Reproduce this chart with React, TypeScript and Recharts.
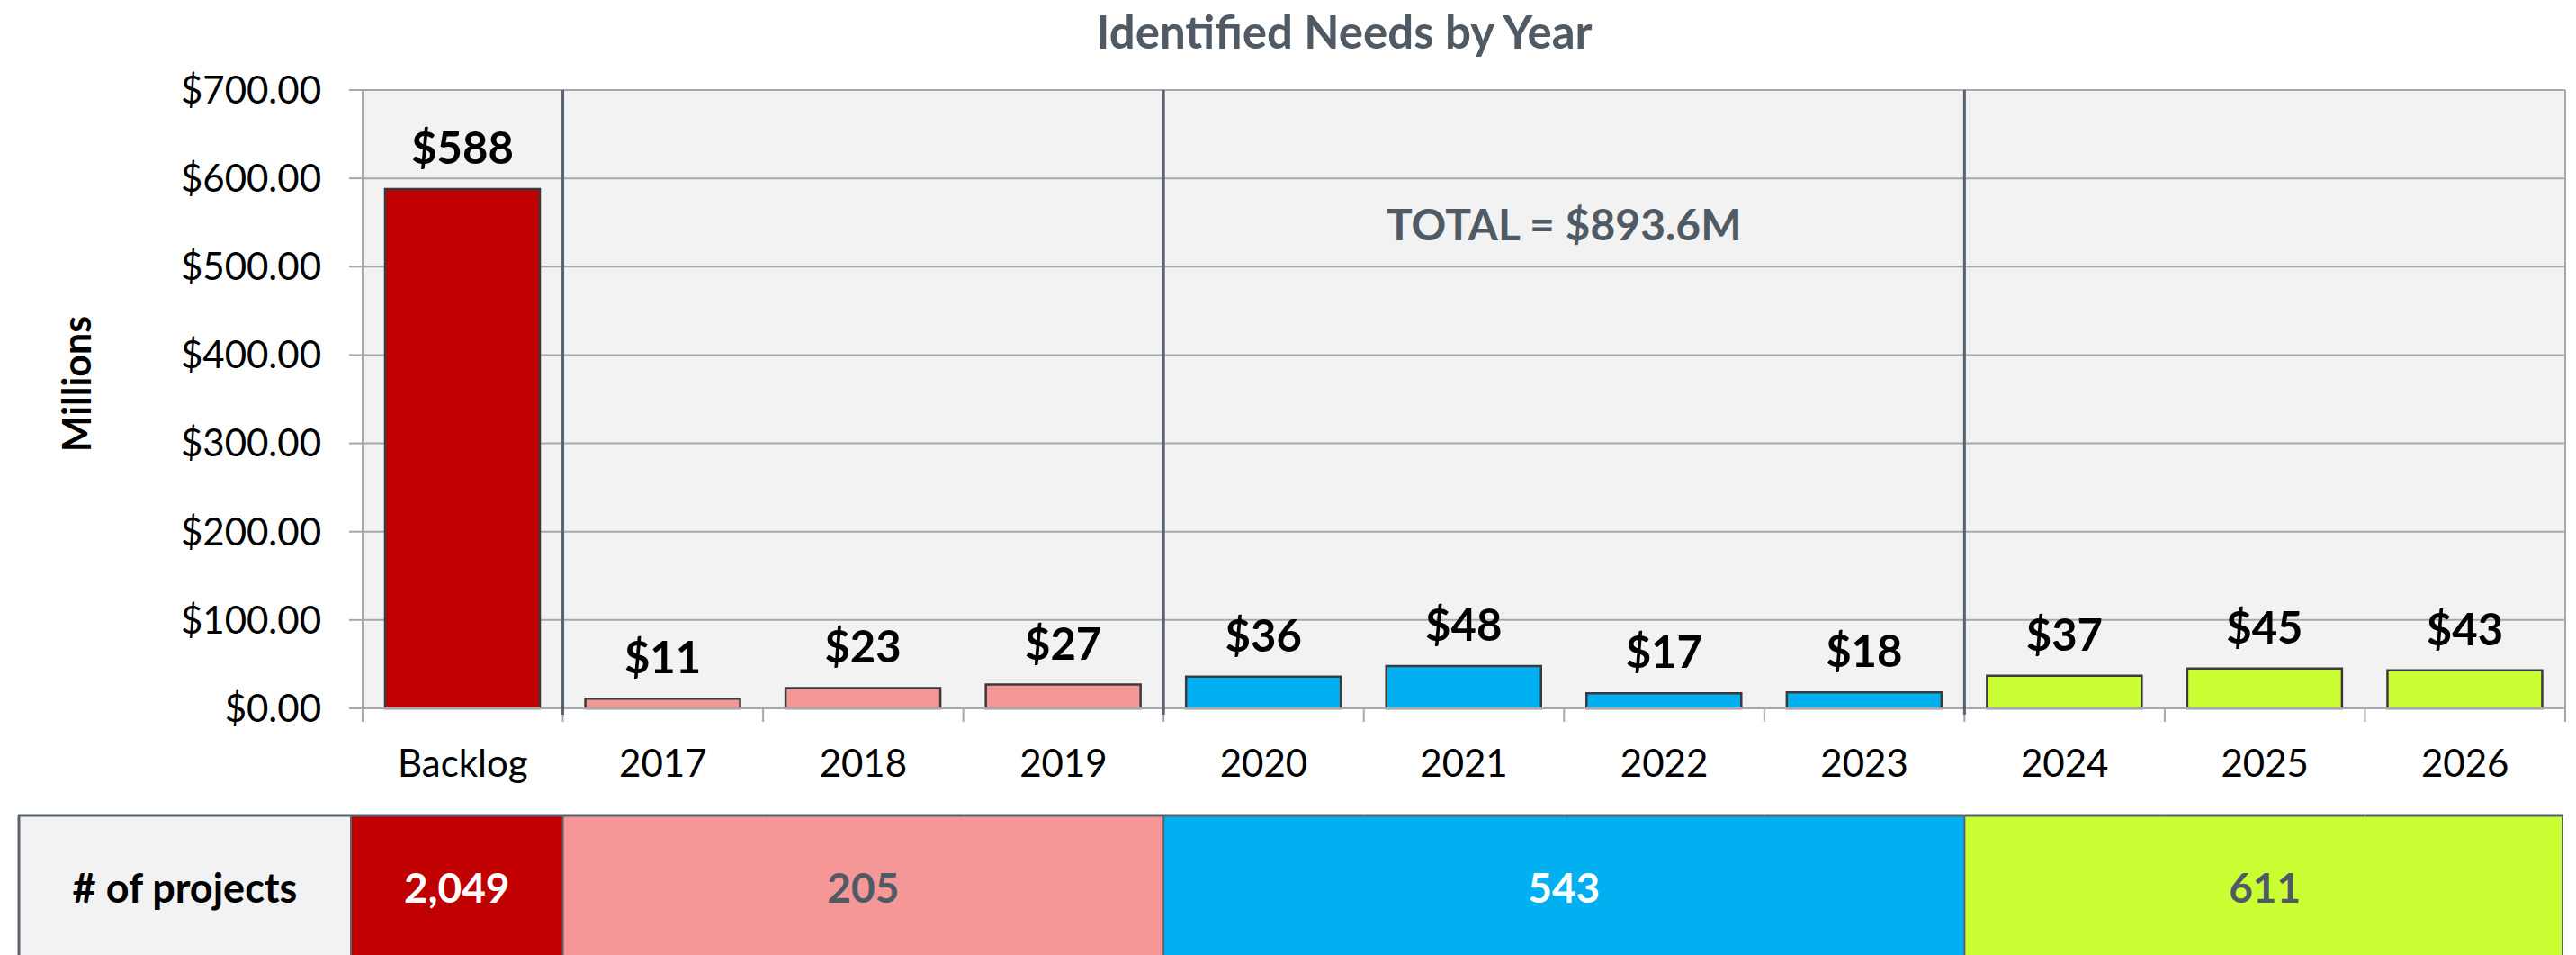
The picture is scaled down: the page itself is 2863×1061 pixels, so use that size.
import React from 'react';
import {
  ComposedChart,
  Bar,
  XAxis,
  YAxis,
  CartesianGrid,
  Cell,
  LabelList,
  ReferenceLine,
  ReferenceArea,
} from 'recharts';

// ---------- data ----------
const categories = ['Backlog', '2017', '2018', '2019', '2020', '2021', '2022', '2023', '2024', '2025', '2026'];
const needsMillions = [588, 11, 23, 27, 36, 48, 17, 18, 37, 45, 43];
const groupOfCategory = [0, 1, 1, 1, 2, 2, 2, 2, 3, 3, 3];
const groupColors = ['#c00000', '#f59797', '#00b0f0', '#ccff33'];
const groupTextColors = ['#ffffff', '#505a64', '#ffffff', '#505a64'];
const projectCounts = ['2,049', '205', '543', '611'];
const yTicks = [0, 100, 200, 300, 400, 500, 600, 700];
const titleText = 'Identified Needs by Year';
const totalText = 'TOTAL = $893.6M';
const yAxisTitle = 'Millions';
const tableHeader = '# of projects';

const data = categories.map((name, i) => ({ name, value: needsMillions[i], group: groupOfCategory[i] }));

// ---------- layout / style ----------
const W = 2863;
const H = 1061;
const Y_AXIS_W = 403;
const M_TOP = 100;
const M_RIGHT = 12;
const X_AXIS_H = 100;
const TABLE_H = 174;
const PLOT_W = W - Y_AXIS_W - M_RIGHT;
const BAND = PLOT_W / categories.length;
const BAR_W = 172;
const FONT = 'Lato, "Open Sans", "DejaVu Sans", sans-serif';
const GRID = '#a5a8ad';
const SEP = '#59636e';
const TEXT_GRAY = '#505a64';

const CategoryTick = (props: any) => {
  const { x, y, payload, index } = props;
  const half = BAND / 2;
  const left = x - half;
  const isGroupStart = index > 0 && groupOfCategory[index] !== groupOfCategory[index - 1];
  const isLast = index === categories.length - 1;
  return (
    <g>
      <line x1={left} x2={left} y1={y} y2={y + 15} stroke={GRID} strokeWidth={2} />
      {isGroupStart && <line x1={left} x2={left} y1={y - 2} y2={y + 7} stroke={SEP} strokeWidth={3} />}
      {isLast && <line x1={x + half} x2={x + half} y1={y} y2={y + 15} stroke={GRID} strokeWidth={2} />}
      <text x={x} y={y + 76} textAnchor="middle" fontSize={42} fontFamily={FONT} fill="#000000">
        {payload.value}
      </text>
    </g>
  );
};

const TableTick = (props: any) => {
  const { x, y, index } = props;
  const g = groupOfCategory[index];
  const half = BAND / 2;
  const top = y + 19;
  const bottom = H + 10;
  const isFirst = index === 0;
  const isLast = index === categories.length - 1;
  const left = isFirst ? x - half - 13 : x - half;
  const right = isLast ? x + half - 3 : x + half;
  const isStart = isFirst || groupOfCategory[index - 1] !== g;
  const isEnd = isLast || groupOfCategory[index + 1] !== g;
  const count = groupOfCategory.filter((v) => v === g).length;
  const groupCenter = isFirst ? (left + right) / 2 : x + half - (count * BAND) / 2;
  const headerLeft = 21;
  return (
    <g>
      {isFirst && (
        <g>
          <rect x={headerLeft} y={top} width={left - headerLeft} height={bottom - top} fill="#f2f2f2" />
          <line x1={headerLeft} x2={headerLeft} y1={top} y2={bottom} stroke={SEP} strokeWidth={3} />
          <line x1={headerLeft - 1} x2={left} y1={top} y2={top} stroke={SEP} strokeWidth={3} />
          <text
            x={(headerLeft + left) / 2}
            y={top + 97}
            textAnchor="middle"
            fontSize={45}
            fontWeight={700}
            fontFamily={FONT}
            fill="#000000"
          >
            {tableHeader}
          </text>
        </g>
      )}
      <rect x={left} y={top} width={right - left + (isLast ? 0 : 1)} height={bottom - top} fill={groupColors[g]} />
      <line x1={left} x2={right + (isLast ? 1 : 0)} y1={top} y2={top} stroke={SEP} strokeWidth={3} />
      {isStart && <line x1={left} x2={left} y1={top} y2={bottom} stroke={SEP} strokeWidth={2} />}
      {isLast && <line x1={right} x2={right} y1={top} y2={bottom} stroke={SEP} strokeWidth={2} />}
      {isEnd && (
        <text
          x={groupCenter}
          y={top + 97}
          textAnchor="middle"
          fontSize={46}
          fontWeight={700}
          fontFamily={FONT}
          fill={groupTextColors[g]}
        >
          {projectCounts[g]}
        </text>
      )}
    </g>
  );
};

const ValueLabel = (props: any) => {
  const { x, y, width, value } = props;
  return (
    <text
      x={x + width / 2}
      y={y - 28}
      textAnchor="middle"
      fontSize={49}
      fontWeight={700}
      fontFamily={FONT}
      fill="#000000"
    >
      {`$${value}`}
    </text>
  );
};

const MillionsLabel = (props: any) => {
  const vb = props.viewBox || { x: 0, y: M_TOP, width: Y_AXIS_W, height: 687 };
  const cx = vb.x + 84;
  const cy = vb.y + vb.height / 2 - 17;
  return (
    <text
      x={cx}
      y={cy}
      transform={`rotate(-90 ${cx} ${cy})`}
      textAnchor="middle"
      dominantBaseline="central"
      fontSize={43}
      fontWeight={700}
      fontFamily={FONT}
      fill="#000000"
    >
      {yAxisTitle}
    </text>
  );
};

const TotalLabel = (props: any) => {
  const vb = props.viewBox || { x: 1293, y: M_TOP, width: 890, height: 687 };
  return (
    <text
      x={vb.x + vb.width / 2}
      y={vb.y + 167}
      textAnchor="middle"
      fontSize={48}
      fontWeight={700}
      fontFamily={FONT}
      fill={TEXT_GRAY}
    >
      {totalText}
    </text>
  );
};

export default function App() {
  return (
    <div style={{ position: 'absolute', left: 0, top: 0, width: W, height: H, overflow: 'hidden', background: '#ffffff' }}>
      <ComposedChart
        width={W}
        height={H}
        data={data}
        margin={{ top: M_TOP, right: M_RIGHT, left: 0, bottom: 0 }}
      >
        <CartesianGrid vertical={false} fill="#f2f2f2" stroke={GRID} strokeWidth={2} />
        <XAxis
          xAxisId="main"
          dataKey="name"
          interval={0}
          height={X_AXIS_H}
          tickLine={false}
          tickSize={0}
          tickMargin={0}
          axisLine={{ stroke: GRID, strokeWidth: 2 }}
          tick={<CategoryTick />}
        />
        <XAxis
          xAxisId="table"
          dataKey="name"
          interval={0}
          height={TABLE_H}
          tickLine={false}
          tickSize={0}
          tickMargin={0}
          axisLine={false}
          tick={<TableTick />}
        />
        <YAxis
          width={Y_AXIS_W}
          domain={[0, 700]}
          ticks={yTicks}
          interval={0}
          tickSize={15}
          tickMargin={31}
          tickLine={{ stroke: GRID, strokeWidth: 2 }}
          axisLine={{ stroke: GRID, strokeWidth: 2 }}
          tick={{ fontSize: 42, fontFamily: FONT, fill: '#000000' }}
          tickFormatter={(v: number) => `$${v.toFixed(2)}`}
          label={<MillionsLabel />}
        />
        <ReferenceArea
          xAxisId="main"
          x1="2020"
          x2="2023"
          fill="#f2f2f2"
          fillOpacity={0}
          stroke="none"
          label={<TotalLabel />}
        />
        <ReferenceLine xAxisId="main" x="2026" position="end" stroke={GRID} strokeWidth={2} />
        <ReferenceLine xAxisId="main" x="2017" position="start" stroke={SEP} strokeWidth={3} />
        <ReferenceLine xAxisId="main" x="2020" position="start" stroke={SEP} strokeWidth={3} />
        <ReferenceLine xAxisId="main" x="2024" position="start" stroke={SEP} strokeWidth={3} />
        <Bar xAxisId="main" dataKey="value" barSize={BAR_W} stroke="#3a3a3a" strokeWidth={2.5} isAnimationActive={false}>
          {data.map((d, i) => (
            <Cell key={i} fill={groupColors[d.group]} />
          ))}
          <LabelList dataKey="value" content={<ValueLabel />} />
        </Bar>
      </ComposedChart>
      <svg
        width={W}
        height={90}
        style={{ position: 'absolute', left: 0, top: 0, pointerEvents: 'none' }}
      >
        <text x={1494} y={54} textAnchor="middle" fontSize={51} fontWeight={700} fontFamily={FONT} fill={TEXT_GRAY}>
          {titleText}
        </text>
      </svg>
    </div>
  );
}
